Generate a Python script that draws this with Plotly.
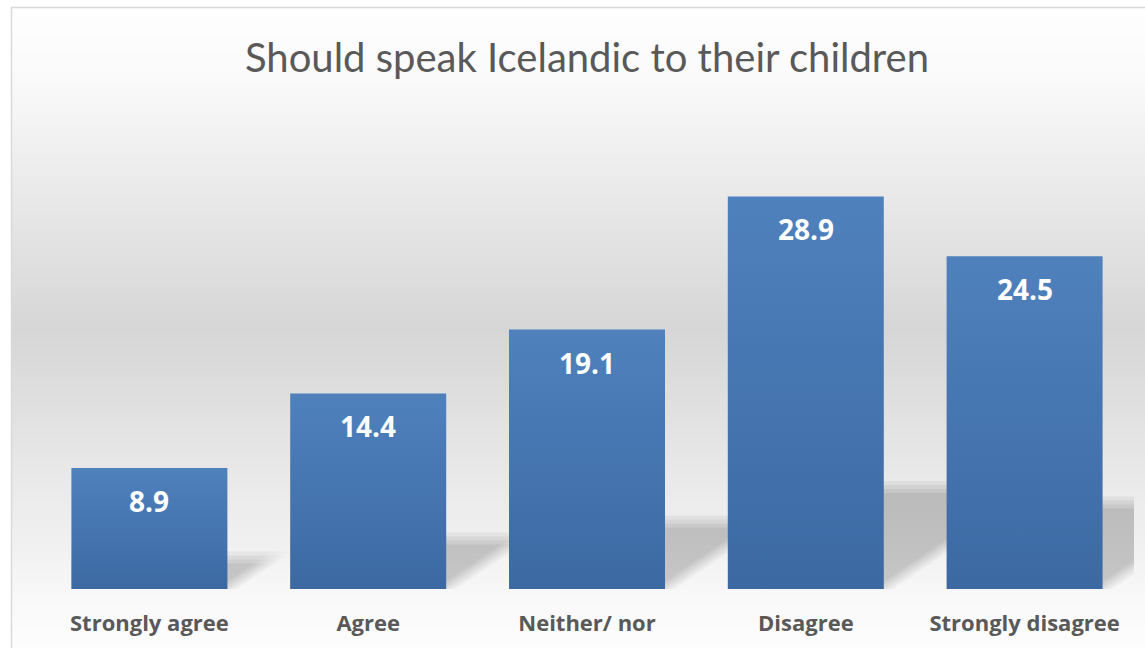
import plotly.graph_objects as go

# ---- data -------------------------------------------------------------
categories = ["Strongly agree", "Agree", "Neither/ nor", "Disagree", "Strongly disagree"]
values = [8.9, 14.4, 19.1, 28.9, 24.5]
title_text = "Should speak Icelandic to their children"

# ---- geometry ---------------------------------------------------------
W, H = 1145, 648
ML, MR, MT, MB = 40, 11, 100, 59
PW, PH = W - ML - MR, H - MT - MB
Y_MAX = 36
BAR_W = 0.713

XU = 5.0 / PW          # data units per pixel (x)
YU = Y_MAX / PH        # data units per pixel (y)


def paper_x(px):
    return (px - ML) / PW


def paper_y(py):
    return (H - MB - py) / PH


def hex_to_rgb(h):
    h = h.lstrip("#")
    return tuple(int(h[i:i + 2], 16) for i in (0, 2, 4))


def lerp_color(stops, p):
    for (p0, c0), (p1, c1) in zip(stops, stops[1:]):
        if p0 <= p <= p1:
            t = (p - p0) / (p1 - p0) if p1 > p0 else 0
            a, b = hex_to_rgb(c0), hex_to_rgb(c1)
            r = [round(a[k] + (b[k] - a[k]) * t) for k in range(3)]
            return "rgb(%d,%d,%d)" % tuple(r)
    return stops[-1][1]


shapes = []

# chart-area background: vertical grey gradient drawn as thin bands
bg_stops = [(7, "#fefefe"), (80, "#fafafa"), (180, "#ebebeb"), (330, "#d6d6d6"),
            (470, "#e8e8e8"), (550, "#f1f1f1"), (600, "#f9f9f9"), (648, "#fdfdfd")]
FRAME_L, FRAME_T = 11, 7
step = 2
for py in range(FRAME_T, H, step):
    shapes.append(dict(
        type="rect", xref="paper", yref="paper", layer="below",
        x0=paper_x(FRAME_L), x1=paper_x(W + 5),
        y0=paper_y(py + step + 0.5), y1=paper_y(py),
        fillcolor=lerp_color(bg_stops, py + step / 2), line=dict(width=0),
    ))

# soft perspective shadows cast behind each bar, built from the bar values;
# faint offset copies stacked on each other give the blurred edges
SH_RATIO = 0.26   # shadow height relative to bar height
SH_SLOPE = 0.68   # rise over run of the shadow's slanted edge (pixels)
OX = [-10, -6, -2, 2, 6, 10]
OY = [-6, -2, 2, 6]
LAYER_ALPHA = 2 / 255
for i, v in enumerate(values):
    xl, xr = i - BAR_W / 2, i + BAR_W / 2
    sh_px = SH_RATIO * v / YU
    for ox in OX:
        for oy in OY:
            top = sh_px + oy
            run = top / SH_SLOPE
            pts = [
                (xl, 0),
                (xr + ox * XU, 0),
                (xr + (ox + run) * XU, top * YU),
                (xl, top * YU),
            ]
            path = "M " + " L ".join("%.5f,%.5f" % p for p in pts) + " Z"
            shapes.append(dict(
                type="path", xref="x", yref="y", layer="below", path=path,
                fillcolor="black", opacity=LAYER_ALPHA, line=dict(width=0),
            ))

# light frame around the chart area
shapes.append(dict(
    type="rect", xref="paper", yref="paper", layer="above",
    x0=paper_x(FRAME_L + 0.5), x1=paper_x(W + 10),
    y0=paper_y(H + 10), y1=paper_y(FRAME_T + 0.5),
    line=dict(color="#d9d9d9", width=1.5), fillcolor="rgba(0,0,0,0)",
))

fig = go.Figure()

# bars with a vertical blue gradient
for i, v in enumerate(values):
    xl, xr = i - BAR_W / 2, i + BAR_W / 2
    fig.add_trace(go.Scatter(
        x=[xl, xr, xr, xl, xl], y=[0, 0, v, v, 0],
        mode="lines", fill="toself", line=dict(width=0),
        fillgradient=dict(type="vertical",
                          colorscale=[[0, "#3c69a2"], [1, "#4f81bd"]]),
        hoverinfo="skip", showlegend=False,
    ))

annotations = []
for i, v in enumerate(values):
    annotations.append(dict(
        x=i, y=v, xref="x", yref="y", text="%.1f" % v, showarrow=False,
        yanchor="middle", yshift=-33,
        font=dict(family="Open Sans", size=28, color="white", weight="bold"),
    ))

annotations.append(dict(
    x=paper_x(587), y=paper_y(57), xref="paper", yref="paper",
    text=title_text, showarrow=False, xanchor="center", yanchor="middle",
    font=dict(family="Lato", size=40, color="#595959"),
))

fig.update_layout(
    width=W, height=H,
    margin=dict(l=ML, r=MR, t=MT, b=MB),
    paper_bgcolor="white", plot_bgcolor="rgba(0,0,0,0)",
    shapes=shapes, annotations=annotations,
    xaxis=dict(
        range=[-0.5, 4.5], tickvals=list(range(len(categories))),
        ticktext=categories, showgrid=False, zeroline=False, showline=False,
        ticks="", ticklabelstandoff=19,
        tickfont=dict(family="Open Sans", size=22, color="#595959", weight="bold"),
        fixedrange=True,
    ),
    yaxis=dict(range=[0, Y_MAX], visible=False, fixedrange=True),
    showlegend=False,
)

fig.write_html("out.html")
